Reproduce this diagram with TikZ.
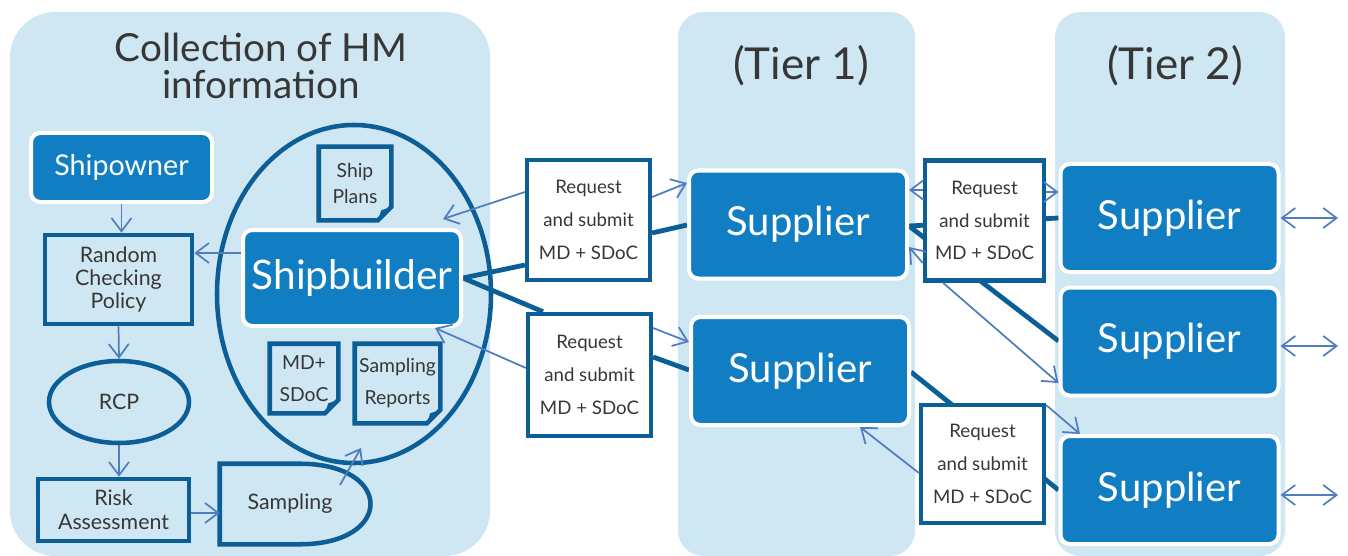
\documentclass[tikz,border=0pt]{standalone}
\usepackage{fontspec}
\setmainfont{Lato}
\usetikzlibrary{arrows.meta,shapes.geometric}

\definecolor{panel}{RGB}{207,230,243}
\definecolor{boxblue}{RGB}{17,126,195}
\definecolor{edge}{RGB}{12,94,150}
\definecolor{link}{RGB}{79,125,192}
\definecolor{txt}{RGB}{55,55,55}

\pgfdeclarelayer{bg}
\pgfdeclarelayer{under}
\pgfsetlayers{bg,under,main}

\tikzset{
  actor/.style={draw=white, line width=3pt, fill=boxblue, rounded corners=7pt, text=white, align=center},
  framebox/.style={draw=edge, line width=3.4pt, fill=panel, text=txt, align=center},
  req/.style={draw=edge, line width=3.4pt, fill=white, text=txt, align=center,
    font=\fontsize{14}{24.5}\selectfont, minimum width=92pt, minimum height=90pt},
  doc/.style={text=txt, align=center, inner sep=0pt},
  feed/.style={draw=link, line width=1.3pt, -{Straight Barb[length=10pt,width=15pt]}},
  both/.style={feed, {Straight Barb[length=10pt,width=15pt]}-{Straight Barb[length=10pt,width=15pt]}},
  tie/.style={draw=edge, line width=3.6pt},
  heading/.style={text=txt, align=center},
}

% folded sheet round a doc node
\newcommand{\docshape}[1]{%
  \draw[edge, line width=3.4pt, line join=miter] (#1.north west) -- (#1.north east)
    -- ([yshift=10pt]#1.south east) -- ([xshift=-10pt]#1.south east) -- (#1.south west) -- cycle;
  \fill[edge] ([yshift=10pt]#1.south east) -- ([xshift=-10pt]#1.south east)
    -- ([xshift=-7.5pt,yshift=7.5pt]#1.south east) -- cycle;}

\begin{document}
\begin{tikzpicture}[x=0.75pt, y=-0.75pt]
\useasboundingbox (0,0) rectangle (1348,556);

\begin{pgfonlayer}{bg}
\fill[panel, rounded corners=34pt] (10,12) rectangle (490,556);
\fill[panel, rounded corners=19pt] (678,12) rectangle (915,556);
\fill[panel, rounded corners=19pt] (1055,12) rectangle (1285,556);
\end{pgfonlayer}

% headings
\node[heading, font=\fontsize{29}{28}\selectfont] (title) at (261,66) {Collection of HM\\information};
\node[heading, font=\fontsize{33}{30}\selectfont] (tier1) at (801,66) {(Tier 1)};
\node[heading, font=\fontsize{33}{30}\selectfont] (tier2) at (1175,66) {(Tier 2)};

% shipowner side
\node[actor, minimum width=135.75pt, minimum height=51.75pt, font=\fontsize{21.5}{24}\selectfont] (owner) at (121.5,167.5) {Shipowner};
\node[framebox, minimum width=110.25pt, minimum height=66.75pt, font=\fontsize{16}{17.6}\selectfont] (policy) at (118.5,279.5) {Random\\Checking\\Policy};
\node[framebox, ellipse, minimum width=105pt, minimum height=61.5pt, font=\fontsize{16}{18}\selectfont] (rcp) at (119,402) {RCP};
\node[framebox, minimum width=113.25pt, minimum height=46.5pt, font=\fontsize{16}{18}\selectfont] (risk) at (113.5,510) {Risk\\Assessment};
\node[doc, minimum width=105pt, minimum height=60pt, font=\fontsize{16}{18}\selectfont] (samp) at (290,504) {Sampling};
\draw[edge, line width=3.4pt] (samp.north west) -- ([xshift=7.5pt]samp.north) .. controls ([xshift=78pt]samp.north) and ([xshift=78pt]samp.south) .. ([xshift=7.5pt]samp.south) -- (samp.south west) -- cycle;

% shipbuilder
\node[draw=edge, line width=3.4pt, ellipse, minimum width=205.5pt, minimum height=253.5pt] (yard) at (354,294) {};
\node[actor, minimum width=163.5pt, minimum height=72pt, font=\fontsize{30.5}{32}\selectfont] (builder) at (352,278) {Shipbuilder};
\node[doc, minimum width=54pt, minimum height=54.75pt, font=\fontsize{14.5}{19.5}\selectfont] (plans) at (355,183.5) {Ship\\Plans};
\node[doc, minimum width=51pt, minimum height=51.75pt, font=\fontsize{14.5}{24}\selectfont] (mdsdoc) at (304,378.5) {MD+\\SDoC};
\node[doc, minimum width=63.75pt, minimum height=59.25pt, font=\fontsize{14.5}{24}\selectfont] (reports) at (397.5,383.5) {Sampling\\Reports};
\docshape{plans}
\docshape{mdsdoc}
\docshape{reports}

% requests
\node[req] (req1) at (588.5,220) {Request\\and submit\\MD + SDoC};
\node[req, minimum height=91.5pt] (req2) at (589.5,375) {Request\\and submit\\MD + SDoC};
\node[req, minimum width=89.25pt] (req3) at (984.5,220.5) {Request\\and submit\\MD + SDoC};
\node[req, minimum height=88.5pt] (req4) at (982.5,464) {Request\\and submit\\MD + SDoC};

% suppliers
\node[actor, minimum width=163.5pt, minimum height=81pt, font=\fontsize{30}{30}\selectfont] (sup1a) at (798,224.5) {Supplier};
\node[actor, minimum width=163.5pt, minimum height=81pt, font=\fontsize{30}{30}\selectfont] (sup1b) at (800,371) {Supplier};
\node[actor, minimum width=163.5pt, minimum height=81pt, font=\fontsize{30}{30}\selectfont] (sup2a) at (1169.5,218) {Supplier};
\node[actor, minimum width=163.5pt, minimum height=81pt, font=\fontsize{30}{30}\selectfont] (sup2b) at (1169.5,341.5) {Supplier};
\node[actor, minimum width=163.5pt, minimum height=81pt, font=\fontsize{30}{30}\selectfont] (sup2c) at (1169.5,490) {Supplier};

\coordinate (in1) at (443,219);
\coordinate (in2) at (435,328);
\coordinate (in3) at (361,448);
\coordinate (out1) at (1338,218);
\coordinate (out2) at (1338,346);
\coordinate (out3) at (1338,495);

% supply chain
\begin{pgfonlayer}{under}
\draw[tie] (builder.east) -- (req1.west |- 0,265);
\draw[tie] (builder.east) -- (543,0 |- req2.north);
\draw[tie] (req1.east |- 0,233) -- (sup1a.west |- 0,225);
\draw[tie] (req2.east |- 0,357) -- (sup1b.west |- 0,370);
\draw[tie] (sup1a.east |- 0,226) -- (sup2a.west |- 0,218);
\draw[tie] (sup1a.east |- 0,226) -- (sup2b.west |- 0,341);
\draw[tie] (sup1b.east |- 0,372) -- (sup2c.west |- 0,490);
\end{pgfonlayer}

% information flow
\draw[feed] (owner.south) -- (owner.south |- policy.north);
\draw[feed] (policy.south) -- (rcp.north);
\draw[feed] (rcp.south) -- (rcp.south |- risk.north);
\draw[feed] (risk.east |- 0,513) -- (samp.west |- 0,513);
\draw[feed] ([shift={(50,-19)}]samp.center) -- (in3);
\draw[feed] (builder.west |- 0,253) -- (policy.east |- 0,253);
\draw[feed] (req1.west |- 0,192) -- (in1);
\draw[feed] (req2.west |- 0,368) -- (in2);
\draw[feed] (req1.east |- 0,197) -- (sup1a.west |- 0,183);
\draw[feed] (req2.east |- 0,328) -- (sup1b.west |- 0,342);
\draw[feed] (req3.west |- 0,190) -- (sup1a.east |- 0,190);
\draw[feed] (req3.west |- 0,263) -- (sup1a.east |- 0,247);
\draw[feed] (req3.east |- 0,192) -- (sup2a.west |- 0,192);
\draw[feed] (943,0 |- req3.south) -- (sup2b.west |- 0,383);
\draw[feed] (req4.east |- 0,405) -- (1080,0 |- sup2c.north);
\draw[feed] (req4.west |- 0,473) -- (860,0 |- sup1b.south);
\draw[both] (sup2a.east) -- (out1);
\draw[both] (sup2b.east |- out2) -- (out2);
\draw[both] (sup2c.east |- out3) -- (out3);
\end{tikzpicture}
\end{document}
